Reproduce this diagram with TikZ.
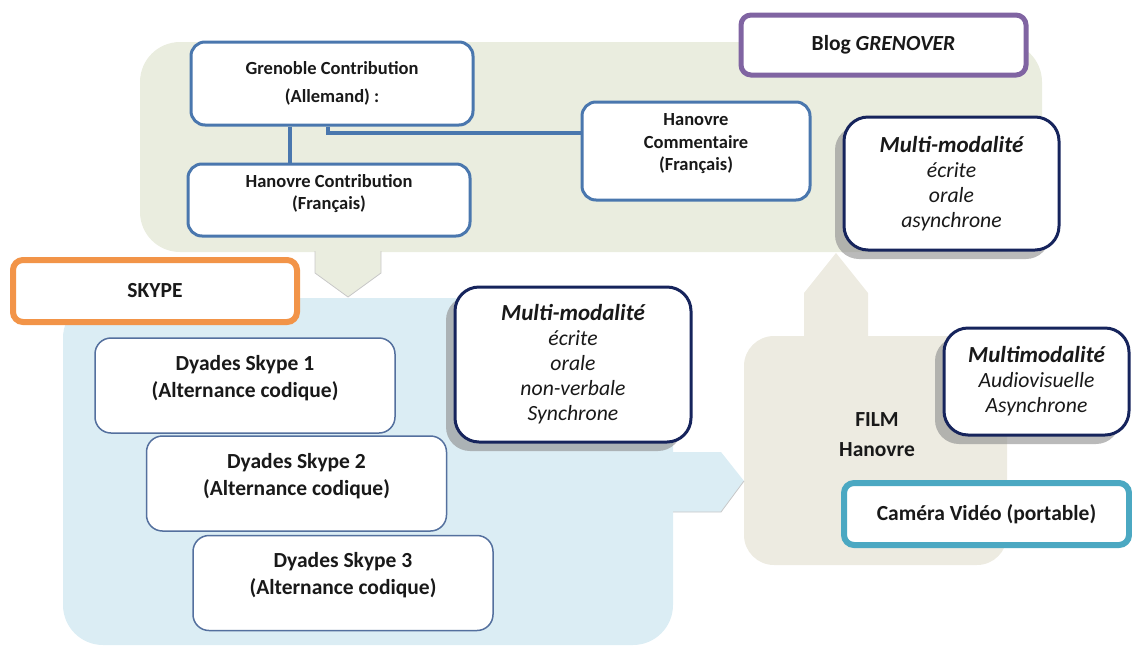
\documentclass[tikz,border=0pt]{standalone}
\usepackage{fontspec}
\setmainfont{Carlito}
\usetikzlibrary{shadows}

\definecolor{blogbg}{RGB}{234,237,223}
\definecolor{skypebg}{RGB}{219,237,244}
\definecolor{filmbg}{RGB}{237,235,225}
\definecolor{contribblue}{RGB}{74,119,174}
\definecolor{dyadblue}{RGB}{84,112,158}
\definecolor{navyline}{RGB}{22,36,92}
\definecolor{blogpurple}{RGB}{128,100,162}
\definecolor{skypeorange}{RGB}{242,148,72}
\definecolor{camteal}{RGB}{75,168,194}
\definecolor{edgegrey}{RGB}{200,200,200}

\newcommand{\modehead}[1]{{\bfseries\fontsize{23}{25}\selectfont #1}}

\begin{document}
\begin{tikzpicture}[x=1pt,y=-1pt,
  every node/.style={align=center, text=black!90, inner sep=0pt},
  contribbox/.style={draw=contribblue, line width=3pt, fill=white, rounded corners=14pt,
    font=\bfseries\fontsize{18.5}{22}\selectfont},
  dyadbox/.style={draw=dyadblue, line width=1.5pt, fill=white, rounded corners=16pt,
    minimum width=300, minimum height=95, text depth=19pt,
    font=\bfseries\fontsize{21.5}{27}\selectfont},
  modebox/.style={draw=navyline, line width=3pt, fill=white, rounded corners=24pt,
    font=\itshape\fontsize{21.7}{25}\selectfont,
    drop shadow={shadow xshift=-9pt, shadow yshift=-9pt, fill=black!45, opacity=.6}},
  titlebox/.style={fill=white, rounded corners=10pt, line width=5pt,
    font=\bfseries\fontsize{21.5}{25}\selectfont},
  link/.style={draw=contribblue, line width=4pt},
  pointer/.style={draw=edgegrey, line width=.8pt}]

\useasboundingbox (0,0) rectangle (1132,646);

% backgrounds
\fill[blogbg, rounded corners=40pt] (140,42) rectangle (1042,252);
\fill[skypebg, rounded corners=40pt] (63,298) rectangle (673,645);
\fill[filmbg, rounded corners=30pt] (744,336) rectangle (1007,565);

% block arrows
\filldraw[fill=blogbg, pointer] (315,251) -- (315,273) -- (348,297) -- (381,273) -- (381,251);
\fill[skypebg] (672,452) -- (721,452) -- (744,481) -- (721,512) -- (672,512) -- cycle;
\draw[pointer] (744,481) -- (721,512) -- (673,512);
\fill[filmbg] (804,338) -- (804,293) -- (836,253) -- (868,293) -- (868,338) -- cycle;

% blog
\node[contribbox, minimum width=282, minimum height=83] (gren) at (332,83.5)
  {Grenoble Contribution\\[6pt](Allemand) :};
\node[contribbox, minimum width=282, minimum height=72, text depth=16pt] (hcon) at (329,200)
  {Hanovre Contribution\\(Français)};
\node[contribbox, minimum width=228, minimum height=98, text depth=18pt,
  font=\bfseries\fontsize{18.5}{22.5}\selectfont] (hcom) at (696,151)
  {Hanovre\\Commentaire\\(Français)};
\node[titlebox, draw=blogpurple, minimum width=285, minimum height=60] (blog) at (883.5,45)
  {Blog \textit{GRENOVER}};
\node[modebox, minimum width=215, minimum height=133] (mode1) at (951.5,183.5)
  {\modehead{Multi-modalité}\\écrite\\orale\\asynchrone};

\draw[link] ([xshift=-42pt]gren.south) -- ([xshift=-39pt]hcon.north);
\draw[link] ([xshift=-4pt]gren.south) |- ([yshift=18pt]hcom.west);

% skype
\node[titlebox, draw=skypeorange, line width=6pt, minimum width=284, minimum height=62] (skype) at (155,291)
  {SKYPE};
\node[dyadbox] (dyad1) at (245,385.5) {Dyades Skype 1\\(Alternance codique)};
\node[dyadbox] (dyad2) at (296.5,483.5) {Dyades Skype 2\\(Alternance codique)};
\node[dyadbox] (dyad3) at (343,583) {Dyades Skype 3\\(Alternance codique)};
\node[modebox, minimum width=236, minimum height=155] (mode2) at (573,364.5)
  {\modehead{Multi-modalité}\\écrite\\orale\\non-verbale\\Synchrone};

% film
\node[font=\bfseries\fontsize{21.5}{30}\selectfont] (film) at (877,435) {FILM\\Hanovre};
\node[modebox, minimum width=185, minimum height=107] (mode3) at (1036.5,381.5)
  {\modehead{Multimodalité}\\Audiovisuelle\\Asynchrone};
\node[titlebox, draw=camteal, line width=6pt, minimum width=285, minimum height=62] (cam) at (986.5,514)
  {Caméra Vidéo (portable)};

\end{tikzpicture}
\end{document}
